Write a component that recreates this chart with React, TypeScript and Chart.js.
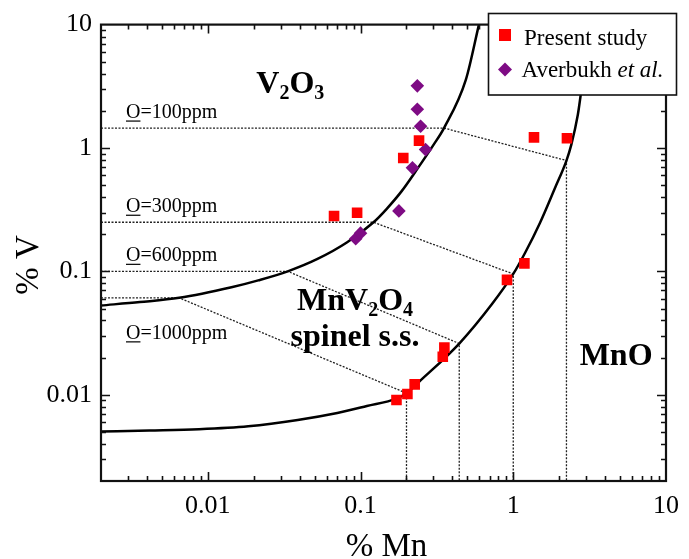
import React, { useEffect, useRef } from 'react';
import { Chart, registerables } from 'chart.js';

Chart.register(...registerables);

const FONT = '"Liberation Serif", "Times New Roman", Times, serif';

// ---- axes ----
const mnMin = 0.002;
const mnMax = 10;
const vMin = 0.002;
const vMax = 10;
const mnTickLabels = [0.01, 0.1, 1, 10];
const vTickLabels = [0.01, 0.1, 1, 10];

// ---- phase boundary V2O3 / MnV2O4 ----
const upperCurveMn = [0.002, 0.0036, 0.0065, 0.0143, 0.0214, 0.0334, 0.0523, 0.0818, 0.1217, 0.148, 0.186, 0.238, 0.299, 0.352, 0.489, 0.596];
const upperCurveV = [0.0529, 0.0564, 0.061, 0.0743, 0.0845, 0.1, 0.126, 0.172, 0.25, 0.32, 0.447, 0.69, 1.05, 1.45, 3.56, 10];

// ---- phase boundary MnV2O4 / MnO ----
const lowerCurveMn = [0.002, 0.00415, 0.00874, 0.0184, 0.0388, 0.0705, 0.11, 0.172, 0.2, 0.2427, 0.443, 0.728, 1.0, 1.196, 1.495, 1.87, 2.23, 2.4, 2.647, 2.755, 3.15];
const lowerCurveV = [0.00503, 0.00513, 0.00526, 0.00556, 0.00625, 0.00712, 0.0081, 0.0093, 0.0103, 0.0128, 0.026, 0.0546, 0.0953, 0.1415, 0.247, 0.47, 0.791, 1.065, 1.859, 2.612, 10];

// ---- oxygen isobars ----
const oxygenPpm = [100, 300, 600, 1000];
const isobarV = [1.45, 0.25, 0.1, 0.061];
const isobarUpperMn = [0.352, 0.1217, 0.0334, 0.0065];
const isobarLowerMn = [2.23, 1.0, 0.443, 0.2];
const isobarLowerV = [0.791, 0.0953, 0.026, 0.0103];

// ---- measured points ----
const presentMn = [0.0671, 0.095, 0.1905, 0.2416, 1.367, 2.247, 1.183, 0.91, 0.354, 0.3456, 0.2263, 0.2028, 0.172];
const presentV = [0.281, 0.299, 0.83, 1.148, 1.22, 1.2, 0.116, 0.0853, 0.0241, 0.0203, 0.01213, 0.01013, 0.00906];
const averbukhMn = [0.2355, 0.2355, 0.2474, 0.2667, 0.2188, 0.1784, 0.093, 0.1];
const averbukhV = [3.19, 2.06, 1.5, 0.97, 0.69, 0.309, 0.184, 0.204];

const RED = '#ff0000';
const PURPLE = '#7e0b84';

const zipXY = (xs: number[], ys: number[]) => xs.map((x, i) => ({ x, y: ys[i] }));

function minorTicks(min: number, max: number) {
  const out: { v: number; major: boolean }[] = [];
  for (let e = -3; e <= 1; e++) {
    for (let m = 1; m <= 9; m++) {
      const v = m * Math.pow(10, e);
      if (v > min * 1.0001 && v < max * 0.9999) out.push({ v, major: m === 1 });
    }
  }
  return out;
}

type Part = { t: string; font: string; dy?: number };
function drawParts(ctx: CanvasRenderingContext2D, parts: Part[], x: number, y: number, align: 'left' | 'center') {
  let total = 0;
  for (const p of parts) {
    ctx.font = p.font;
    total += ctx.measureText(p.t).width;
  }
  let cx = align === 'center' ? x - total / 2 : x;
  ctx.textAlign = 'left';
  ctx.textBaseline = 'alphabetic';
  for (const p of parts) {
    ctx.font = p.font;
    ctx.fillText(p.t, cx, y + (p.dy || 0));
    cx += ctx.measureText(p.t).width;
  }
}

const decorPlugin = {
  id: 'decor',
  afterDraw(chart: any) {
    const { ctx, chartArea: a, scales } = chart;
    const xs = scales.x;
    const ys = scales.y;
    ctx.save();

    // inward ticks on all four sides
    ctx.strokeStyle = '#111';
    ctx.lineWidth = 1.6;
    for (const t of minorTicks(mnMin, mnMax)) {
      const px = Math.round(xs.getPixelForValue(t.v)) + 0.5;
      const len = t.major ? 9 : 5;
      ctx.beginPath();
      ctx.moveTo(px, a.bottom);
      ctx.lineTo(px, a.bottom - len);
      ctx.moveTo(px, a.top);
      ctx.lineTo(px, a.top + len);
      ctx.stroke();
    }
    for (const t of minorTicks(vMin, vMax)) {
      const py = Math.round(ys.getPixelForValue(t.v)) + 0.5;
      const len = t.major ? 9 : 5;
      ctx.beginPath();
      ctx.moveTo(a.left, py);
      ctx.lineTo(a.left + len, py);
      ctx.moveTo(a.right, py);
      ctx.lineTo(a.right - len, py);
      ctx.stroke();
    }
    // frame
    ctx.lineWidth = 2.2;
    ctx.strokeStyle = '#111';
    ctx.strokeRect(a.left, a.top, a.right - a.left, a.bottom - a.top);

    ctx.fillStyle = '#000';
    // isobar labels
    const lblFont = `20px ${FONT}`;
    oxygenPpm.forEach((ppm, i) => {
      const lineY = ys.getPixelForValue(isobarV[i]);
      const by = i === oxygenPpm.length - 1 ? lineY + 41 : lineY - 10;
      const lx = a.left + 25;
      ctx.font = lblFont;
      ctx.textAlign = 'left';
      ctx.textBaseline = 'alphabetic';
      ctx.fillText('O', lx, by);
      const ow = ctx.measureText('O').width;
      ctx.fillText(`=${ppm}ppm`, lx + ow, by);
      ctx.lineWidth = 1.3;
      ctx.beginPath();
      ctx.moveTo(lx, by + 3);
      ctx.lineTo(lx + ow, by + 3);
      ctx.stroke();
    });

    // phase region labels
    const big = `bold 32px ${FONT}`;
    const sub = `bold 20px ${FONT}`;
    drawParts(ctx, [
      { t: 'V', font: big }, { t: '2', font: sub, dy: 6 }, { t: 'O', font: big }, { t: '3', font: sub, dy: 6 },
    ], xs.getPixelForValue(0.0208), ys.getPixelForValue(2.78), 'left');
    drawParts(ctx, [
      { t: 'MnV', font: big }, { t: '2', font: sub, dy: 6 }, { t: 'O', font: big }, { t: '4', font: sub, dy: 6 },
    ], xs.getPixelForValue(0.0921), ys.getPixelForValue(0.0482), 'center');
    drawParts(ctx, [{ t: 'spinel s.s.', font: big }], xs.getPixelForValue(0.0921), ys.getPixelForValue(0.0247), 'center');
    drawParts(ctx, [{ t: 'MnO', font: big }], xs.getPixelForValue(2.72), ys.getPixelForValue(0.01736), 'left');

    // axis titles
    ctx.font = `33px ${FONT}`;
    ctx.textAlign = 'center';
    ctx.textBaseline = 'alphabetic';
    ctx.fillText('% Mn', (a.left + a.right) / 2 + 3, 556);
    ctx.save();
    ctx.translate(38, 265);
    ctx.rotate(-Math.PI / 2);
    ctx.fillText('% V', 0, 0);
    ctx.restore();

    // legend box
    const bx = 488.5, by = 13.5, bw = 188, bh = 81.5;
    ctx.fillStyle = '#fff';
    ctx.fillRect(bx, by, bw, bh);
    ctx.strokeStyle = '#111';
    ctx.lineWidth = 1.6;
    ctx.strokeRect(bx, by, bw, bh);
    ctx.fillStyle = RED;
    ctx.fillRect(505 - 6, 35 - 6, 12, 12);
    ctx.fillStyle = PURPLE;
    ctx.beginPath();
    ctx.moveTo(505, 69.5 - 7);
    ctx.lineTo(512, 69.5);
    ctx.lineTo(505, 69.5 + 7);
    ctx.lineTo(498, 69.5);
    ctx.closePath();
    ctx.fill();
    ctx.fillStyle = '#000';
    ctx.textAlign = 'left';
    ctx.font = `23px ${FONT}`;
    ctx.fillText('Present study', 524, 45);
    ctx.fillText('Averbukh ', 521.5, 77);
    const aw = ctx.measureText('Averbukh ').width;
    ctx.font = `italic 23px ${FONT}`;
    ctx.fillText('et al.', 521.5 + aw, 77);

    ctx.restore();
  },
};

export default function App() {
  const ref = useRef<HTMLCanvasElement>(null);
  useEffect(() => {
    const canvas = ref.current!;
    const curveStyle = {
      showLine: true,
      borderColor: '#000',
      borderWidth: 2.5,
      pointRadius: 0,
      cubicInterpolationMode: 'monotone' as const,
      fill: false,
    };
    const isobarSets = oxygenPpm.map((ppm, i) => ({
      label: `O=${ppm}ppm`,
      data: [
        { x: mnMin, y: isobarV[i] },
        { x: isobarUpperMn[i], y: isobarV[i] },
        { x: isobarLowerMn[i], y: isobarLowerV[i] },
        { x: isobarLowerMn[i], y: vMin },
      ],
      showLine: true,
      borderColor: '#222',
      borderWidth: 1.3,
      borderDash: [2, 1.5],
      pointRadius: 0,
      tension: 0,
      fill: false,
    }));
    const chart = new Chart(canvas, {
      type: 'scatter',
      data: {
        datasets: [
          {
            label: 'Present study',
            data: zipXY(presentMn, presentV),
            pointStyle: 'rect',
            pointRadius: 7.5,
            backgroundColor: RED,
            borderWidth: 0,
            showLine: false,
          },
          {
            label: 'Averbukh et al.',
            data: zipXY(averbukhMn, averbukhV),
            pointStyle: 'rectRot',
            pointRadius: 6.8,
            backgroundColor: PURPLE,
            borderWidth: 0,
            showLine: false,
          },
          { label: 'V2O3 / MnV2O4', data: zipXY(upperCurveMn, upperCurveV), ...curveStyle },
          { label: 'MnV2O4 / MnO', data: zipXY(lowerCurveMn, lowerCurveV), ...curveStyle },
          ...isobarSets,
        ] as any,
      },
      options: {
        responsive: false,
        animation: false,
        devicePixelRatio: 1,
        layout: { padding: { left: 0, right: 17, top: 22.5, bottom: 0 } },
        plugins: { legend: { display: false }, tooltip: { enabled: false } },
        scales: {
          x: {
            type: 'logarithmic',
            min: mnMin,
            max: mnMax,
            grid: { display: false, drawTicks: false },
            border: { display: false },
            afterBuildTicks: (s: any) => {
              s.ticks = mnTickLabels.map((v) => ({ value: v }));
            },
            afterFit: (s: any) => {
              s.height = 78;
            },
            ticks: {
              color: '#000',
              font: { family: FONT, size: 26 },
              padding: 10,
              autoSkip: false,
              maxRotation: 0,
              callback: (v: any) => String(v),
            },
          },
          y: {
            type: 'logarithmic',
            min: vMin,
            max: vMax,
            grid: { display: false, drawTicks: false },
            border: { display: false },
            afterBuildTicks: (s: any) => {
              s.ticks = vTickLabels.map((v) => ({ value: v }));
            },
            afterFit: (s: any) => {
              s.width = 101;
            },
            ticks: {
              color: '#000',
              font: { family: FONT, size: 26 },
              padding: 9,
              autoSkip: false,
              callback: (v: any) => String(v),
            },
          },
        },
      } as any,
      plugins: [decorPlugin],
    });
    return () => chart.destroy();
  }, []);
  return (
    <canvas
      ref={ref}
      width={689}
      height={559}
      style={{ position: 'absolute', left: 0, top: 0, display: 'block', width: 689, height: 559 }}
    />
  );
}
